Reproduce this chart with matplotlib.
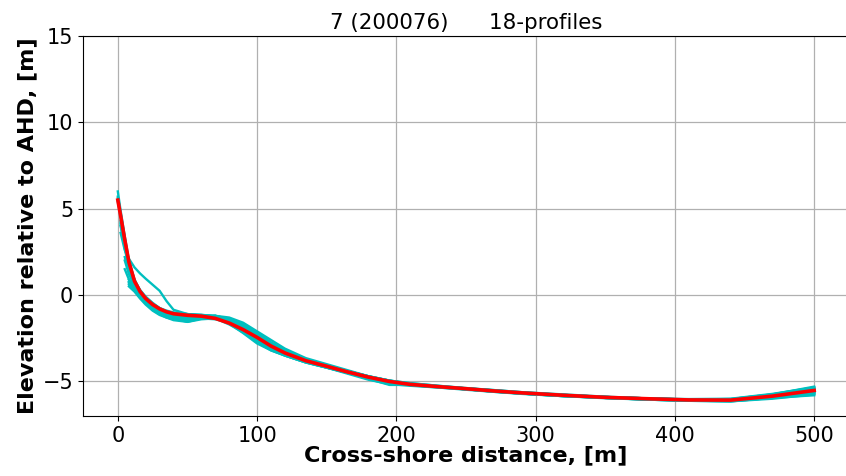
import numpy as np
import matplotlib
matplotlib.use("Agg")
import matplotlib.pyplot as plt

nan = np.nan

TITLE = "7 (200076)      18-profiles"

# cross-shore chainage shared by every surveyed profile, [m]
chainage = [0, 2, 5, 8, 12, 16, 20, 25, 30, 35, 40, 50, 60, 70, 80, 90, 100,
            110, 120, 135, 150, 165, 180, 195, 210, 230, 250, 270, 290, 320,
            350, 380, 410, 440, 470, 500]

# surveyed elevations (m AHD), one row per profile; nan before the first point
profiles = [
    [6.0, 4.9, 3.4, 2.0, 0.9, 0.25, -0.15, -0.5, -0.75, -0.95, -1.05, -1.15, -1.2, -1.3, -1.55, -1.9, -2.35, -2.85, -3.3, -3.75, -4.1, -4.45, -4.75, -5.0, -5.15, -5.3, -5.4, -5.55, -5.65, -5.8, -5.9, -6.0, -6.05, -6.05, -5.8, -5.45],
    [nan, 3.6, 2.6, 2.1, 1.6, 1.25, 0.95, 0.6, 0.25, -0.35, -0.85, -1.1, -1.2, -1.3, -1.45, -1.75, -2.2, -2.75, -3.25, -3.75, -4.1, -4.4, -4.7, -4.95, -5.15, -5.3, -5.45, -5.55, -5.65, -5.8, -5.9, -5.98, -6.05, -6.02, -5.75, -5.35],
    [nan, nan, nan, 0.7, 0.4, 0.0, -0.35, -0.7, -0.95, -1.15, -1.3, -1.45, -1.3, -1.2, -1.4, -1.85, -2.4, -2.95, -3.4, -3.85, -4.15, -4.5, -4.8, -5.05, -5.2, -5.3, -5.45, -5.55, -5.7, -5.82, -5.95, -6.02, -6.1, -6.1, -5.9, -5.6],
    [nan, nan, 2.2, 1.3, 0.6, 0.05, -0.35, -0.75, -1.0, -1.2, -1.35, -1.55, -1.35, -1.25, -1.5, -2.0, -2.6, -3.05, -3.45, -3.85, -4.15, -4.5, -4.8, -5.0, -5.2, -5.32, -5.45, -5.58, -5.68, -5.82, -5.95, -6.02, -6.1, -6.12, -5.95, -5.7],
    [nan, nan, nan, 0.6, 0.3, -0.1, -0.45, -0.8, -1.05, -1.2, -1.3, -1.4, -1.25, -1.3, -1.65, -2.2, -2.8, -3.2, -3.5, -3.9, -4.2, -4.5, -4.85, -5.1, -5.2, -5.32, -5.45, -5.58, -5.7, -5.85, -5.95, -6.05, -6.1, -6.15, -5.95, -5.8],
    [5.7, 4.7, 3.3, 1.8, 0.7, 0.1, -0.3, -0.65, -0.85, -1.0, -1.1, -1.15, -1.18, -1.25, -1.5, -1.95, -2.5, -3.0, -3.4, -3.85, -4.15, -4.5, -4.85, -5.2, -5.2, -5.3, -5.4, -5.55, -5.65, -5.78, -5.9, -5.98, -6.05, -6.05, -5.78, -5.4],
    [nan, 4.0, 2.8, 1.6, 0.75, 0.2, -0.2, -0.6, -0.9, -1.1, -1.2, -1.25, -1.2, -1.25, -1.45, -1.85, -2.3, -2.85, -3.3, -3.75, -4.05, -4.4, -4.7, -4.95, -5.15, -5.3, -5.4, -5.52, -5.65, -5.78, -5.9, -5.98, -6.05, -6.05, -5.8, -5.5],
    [nan, nan, nan, 0.9, 0.5, 0.0, -0.4, -0.8, -1.1, -1.3, -1.45, -1.55, -1.4, -1.35, -1.55, -2.05, -2.65, -3.1, -3.45, -3.85, -4.2, -4.55, -4.9, -5.15, -5.25, -5.35, -5.45, -5.6, -5.7, -5.85, -5.95, -6.05, -6.12, -6.15, -6.0, -5.75],
    [nan, 4.3, 3.0, 1.7, 0.8, 0.25, -0.1, -0.45, -0.75, -0.9, -1.0, -1.1, -1.15, -1.2, -1.4, -1.7, -2.2, -2.75, -3.2, -3.7, -4.05, -4.4, -4.7, -4.95, -5.1, -5.25, -5.38, -5.5, -5.62, -5.75, -5.88, -5.98, -6.02, -6.0, -5.72, -5.35],
    [nan, nan, 1.5, 0.9, 0.4, -0.05, -0.45, -0.85, -1.1, -1.25, -1.35, -1.5, -1.3, -1.2, -1.3, -1.6, -2.1, -2.6, -3.1, -3.65, -4.0, -4.35, -4.7, -4.95, -5.1, -5.25, -5.4, -5.5, -5.62, -5.78, -5.9, -5.98, -6.05, -6.05, -5.8, -5.45],
    [nan, nan, nan, 0.75, 0.35, -0.05, -0.4, -0.75, -0.95, -1.1, -1.2, -1.3, -1.25, -1.35, -1.7, -2.15, -2.7, -3.15, -3.5, -3.9, -4.2, -4.5, -4.8, -5.05, -5.2, -5.32, -5.45, -5.58, -5.7, -5.85, -5.95, -6.05, -6.12, -6.12, -5.9, -5.65],
    [5.4, 4.5, 3.1, 1.85, 0.75, 0.15, -0.25, -0.6, -0.85, -1.0, -1.1, -1.15, -1.15, -1.2, -1.45, -1.8, -2.3, -2.8, -3.25, -3.75, -4.1, -4.4, -4.75, -5.0, -5.15, -5.28, -5.4, -5.52, -5.65, -5.78, -5.9, -6.0, -6.05, -6.05, -5.8, -5.5],
    [nan, nan, nan, 0.5, 0.2, -0.2, -0.55, -0.9, -1.15, -1.3, -1.4, -1.45, -1.3, -1.3, -1.6, -2.1, -2.7, -3.2, -3.5, -3.9, -4.2, -4.5, -4.8, -5.05, -5.22, -5.35, -5.48, -5.6, -5.72, -5.85, -5.97, -6.05, -6.12, -6.15, -5.95, -5.7],
    [nan, 4.2, 2.9, 1.75, 0.85, 0.3, -0.1, -0.5, -0.8, -0.95, -1.05, -1.1, -1.15, -1.25, -1.5, -1.9, -2.4, -2.9, -3.3, -3.8, -4.1, -4.42, -4.72, -4.98, -5.15, -5.28, -5.42, -5.55, -5.65, -5.8, -5.92, -6.0, -6.07, -6.07, -5.85, -5.55],
    [nan, nan, 2.0, 1.2, 0.55, 0.05, -0.35, -0.7, -0.95, -1.1, -1.2, -1.3, -1.25, -1.3, -1.55, -2.0, -2.5, -3.0, -3.4, -3.85, -4.15, -4.48, -4.78, -5.02, -5.18, -5.3, -5.42, -5.55, -5.68, -5.82, -5.93, -6.02, -6.08, -6.1, -5.88, -5.6],
    [5.6, 4.7, 3.25, 1.95, 0.85, 0.2, -0.2, -0.55, -0.8, -0.95, -1.05, -1.12, -1.18, -1.3, -1.55, -1.95, -2.45, -2.9, -3.35, -3.8, -4.12, -4.45, -4.75, -5.0, -5.17, -5.3, -5.42, -5.55, -5.66, -5.8, -5.92, -6.0, -6.07, -6.08, -5.85, -5.55],
    [nan, nan, nan, 0.8, 0.45, 0.05, -0.3, -0.7, -1.0, -1.2, -1.3, -1.4, -1.35, -1.4, -1.6, -2.05, -2.6, -3.05, -3.45, -3.85, -4.15, -4.5, -4.8, -5.05, -5.2, -5.33, -5.45, -5.58, -5.7, -5.83, -5.95, -6.03, -6.1, -6.1, -5.92, -5.62],
    [nan, 4.1, 2.7, 1.5, 0.7, 0.15, -0.25, -0.6, -0.85, -1.0, -1.1, -1.2, -1.2, -1.25, -1.45, -1.85, -2.35, -2.85, -3.3, -3.75, -4.08, -4.4, -4.72, -4.98, -5.15, -5.28, -5.4, -5.52, -5.64, -5.78, -5.9, -5.98, -6.04, -6.02, -5.75, -5.3],
]

# averaged profile
mean_profile = [5.5, 4.6, 3.2, 1.9, 0.8, 0.2, -0.2, -0.55, -0.8, -0.97, -1.08,
                -1.17, -1.22, -1.35, -1.62, -2.0, -2.45, -2.95, -3.35, -3.8,
                -4.12, -4.45, -4.75, -5.0, -5.17, -5.3, -5.42, -5.55, -5.66,
                -5.8, -5.92, -6.0, -6.07, -6.08, -5.85, -5.52]

fig = plt.figure(figsize=(8.46, 4.76), dpi=100)
# axes run slightly past the right edge of the canvas
ax = fig.add_axes([83 / 846, 60 / 476, 766 / 846, 380 / 476])

for z in profiles:
    ax.plot(chainage, z, color="c", lw=1.7)
ax.plot(chainage, mean_profile, color="r", lw=2.6)

ax.set_xlim(-25, 525)
ax.set_ylim(-7, 15)
ax.set_xticks([0, 100, 200, 300, 400, 500])
ax.set_yticks([-5, 0, 5, 10, 15])
ax.spines["right"].set_visible(False)
ax.grid(True, color="#b0b0b0", lw=0.9)
ax.tick_params(labelsize=15)
ax.set_title(TITLE, fontsize=15.4, pad=5)
ax.set_xlabel("Cross-shore distance, [m]", fontsize=16, fontweight="bold",
              labelpad=0)
ax.set_ylabel("Elevation relative to AHD, [m]", fontsize=16,
              fontweight="bold", labelpad=4)

fig.savefig("out.png", dpi=100)
